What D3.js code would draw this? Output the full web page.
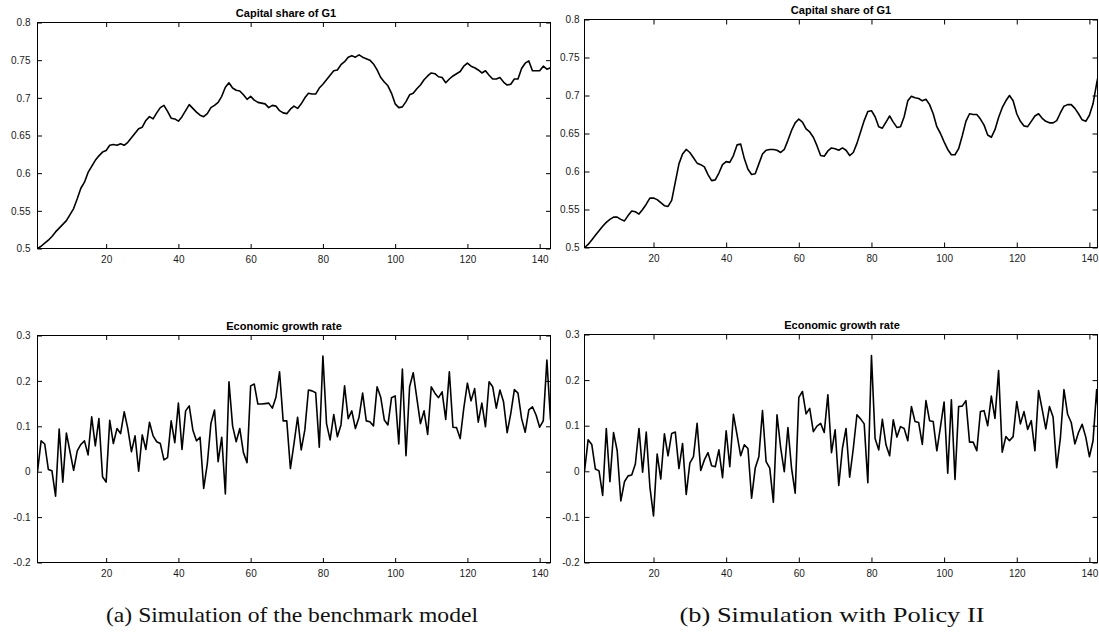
<!DOCTYPE html>
<html>
<head>
<meta charset="utf-8">
<script src="https://cdn.jsdelivr.net/npm/d3@7"></script>
<style>
  html, body { margin: 0; padding: 0; background: #fff; }
  svg { display: block; }
  .tick text { font-family: "Liberation Sans", Arial, Helvetica, sans-serif; font-size: 10px; fill: #1a1a1a; }
  .tick line { stroke: #000; stroke-width: 1; }
  .ptitle { font-family: "Liberation Sans", Arial, Helvetica, sans-serif; font-size: 11px; font-weight: bold; fill: #000; }
  .caption { font-family: "Liberation Serif", "Times New Roman", serif; font-size: 22px; fill: #111; }
</style>
</head>
<body>
<svg id="chart" width="1099" height="639"></svg>
<script>
// Simulated periods
const periods = d3.range(1, 144);

// (a) Benchmark model: capital share of G1
const capitalShareA = [
  0.500, 0.503, 0.507, 0.511, 0.516, 0.522, 0.527, 0.532, 0.537, 0.545,
  0.553, 0.566, 0.580, 0.588, 0.601, 0.609, 0.617, 0.623, 0.628, 0.630,
  0.637, 0.638, 0.637, 0.639, 0.637, 0.641, 0.647, 0.653, 0.659, 0.661,
  0.670, 0.675, 0.672, 0.680, 0.687, 0.690, 0.682, 0.673, 0.672, 0.669,
  0.675, 0.683, 0.691, 0.686, 0.681, 0.677, 0.675, 0.679, 0.687, 0.690,
  0.694, 0.702, 0.714, 0.720, 0.713, 0.710, 0.709, 0.704, 0.698, 0.702,
  0.697, 0.694, 0.693, 0.692, 0.687, 0.690, 0.689, 0.683, 0.680, 0.679,
  0.685, 0.689, 0.686, 0.692, 0.700, 0.706, 0.705, 0.705, 0.713, 0.718,
  0.724, 0.730, 0.736, 0.737, 0.744, 0.748, 0.754, 0.756, 0.754, 0.757,
  0.754, 0.752, 0.750, 0.745, 0.737, 0.727, 0.721, 0.716, 0.706, 0.692,
  0.687, 0.688, 0.695, 0.704, 0.706, 0.712, 0.717, 0.724, 0.729, 0.733,
  0.732, 0.728, 0.727, 0.720, 0.725, 0.729, 0.732, 0.735, 0.742, 0.746,
  0.742, 0.740, 0.737, 0.733, 0.736, 0.730, 0.725, 0.725, 0.727, 0.721,
  0.717, 0.718, 0.725, 0.725, 0.739, 0.746, 0.749, 0.736, 0.736, 0.736,
  0.742, 0.738, 0.740
];

// (a) Benchmark model: economic growth rate
const growthA = [
  0.000, 0.068, 0.061, 0.005, 0.002, -0.054, 0.094, -0.023, 0.085, 0.044,
  0.003, 0.046, 0.060, 0.068, 0.037, 0.121, 0.057, 0.117, -0.011, -0.023,
  0.113, 0.062, 0.095, 0.084, 0.132, 0.095, 0.044, 0.079, 0.001, 0.081,
  0.049, 0.109, 0.079, 0.066, 0.062, 0.026, 0.031, 0.112, 0.064, 0.151,
  0.049, 0.134, 0.145, 0.092, 0.068, 0.076, -0.037, 0.017, 0.106, 0.136,
  0.022, 0.076, -0.049, 0.198, 0.101, 0.066, 0.095, 0.042, 0.020, 0.189,
  0.193, 0.149, 0.149, 0.150, 0.151, 0.140, 0.164, 0.220, 0.112, 0.112,
  0.007, 0.062, 0.120, 0.048, 0.092, 0.180, 0.178, 0.174, 0.054, 0.255,
  0.106, 0.070, 0.126, 0.077, 0.103, 0.189, 0.117, 0.134, 0.095, 0.120,
  0.173, 0.112, 0.110, 0.101, 0.187, 0.164, 0.114, 0.103, 0.163, 0.167,
  0.061, 0.226, 0.035, 0.187, 0.218, 0.162, 0.106, 0.134, 0.082, 0.187,
  0.173, 0.163, 0.176, 0.115, 0.220, 0.098, 0.097, 0.073, 0.140, 0.195,
  0.156, 0.183, 0.109, 0.151, 0.099, 0.198, 0.187, 0.140, 0.180, 0.154,
  0.086, 0.128, 0.181, 0.173, 0.117, 0.087, 0.136, 0.143, 0.125, 0.098,
  0.112, 0.246, 0.114
];

// (b) Policy II: capital share of G1
const capitalShareB = [
  0.500, 0.504, 0.510, 0.516, 0.522, 0.528, 0.533, 0.537, 0.540, 0.540,
  0.537, 0.535, 0.542, 0.548, 0.547, 0.544, 0.550, 0.557, 0.565, 0.565,
  0.563, 0.559, 0.555, 0.554, 0.562, 0.586, 0.610, 0.623, 0.629, 0.625,
  0.618, 0.611, 0.609, 0.606, 0.596, 0.588, 0.589, 0.598, 0.609, 0.613,
  0.612, 0.621, 0.635, 0.636, 0.617, 0.603, 0.596, 0.597, 0.610, 0.623,
  0.628, 0.629, 0.629, 0.628, 0.625, 0.629, 0.641, 0.654, 0.664, 0.669,
  0.665, 0.656, 0.652, 0.645, 0.634, 0.621, 0.620, 0.627, 0.631, 0.630,
  0.628, 0.631, 0.628, 0.621, 0.625, 0.637, 0.652, 0.667, 0.679, 0.680,
  0.672, 0.659, 0.657, 0.665, 0.673, 0.665, 0.658, 0.659, 0.672, 0.693,
  0.699, 0.697, 0.696, 0.693, 0.695, 0.688, 0.676, 0.659, 0.650, 0.639,
  0.629, 0.622, 0.622, 0.630, 0.647, 0.666, 0.676, 0.675, 0.675, 0.669,
  0.661, 0.648, 0.645, 0.655, 0.671, 0.684, 0.693, 0.700, 0.693, 0.676,
  0.666, 0.660, 0.659, 0.666, 0.673, 0.676, 0.670, 0.666, 0.664, 0.664,
  0.667, 0.677, 0.686, 0.688, 0.688, 0.683, 0.676, 0.668, 0.666, 0.674,
  0.689, 0.716, 0.740
];

// (b) Policy II: economic growth rate
const growthB = [
  0.000, 0.069, 0.059, 0.005, 0.001, -0.053, 0.094, -0.023, 0.085, 0.045,
  -0.065, -0.023, -0.010, -0.008, 0.016, 0.094, -0.002, 0.086, -0.034, -0.098,
  0.038, -0.017, 0.082, 0.034, 0.083, 0.086, 0.006, 0.061, -0.051, 0.018,
  0.032, 0.105, 0.002, 0.025, 0.041, 0.012, 0.010, 0.047, -0.014, 0.089,
  0.010, 0.125, 0.080, 0.034, 0.058, 0.050, -0.059, 0.007, 0.032, 0.133,
  0.021, 0.007, -0.068, 0.124, 0.052, -0.001, 0.096, 0.007, -0.048, 0.162,
  0.175, 0.126, 0.138, 0.087, 0.099, 0.105, 0.085, 0.168, 0.041, 0.091,
  -0.031, 0.050, 0.094, -0.013, 0.050, 0.124, 0.115, 0.104, -0.025, 0.254,
  0.072, 0.047, 0.114, 0.058, 0.034, 0.113, 0.075, 0.098, 0.094, 0.067,
  0.142, 0.109, 0.107, 0.059, 0.155, 0.111, 0.109, 0.045, 0.098, 0.152,
  -0.004, 0.157, -0.018, 0.142, 0.143, 0.155, 0.064, 0.064, 0.045, 0.131,
  0.133, 0.100, 0.165, 0.116, 0.221, 0.042, 0.076, 0.067, 0.076, 0.153,
  0.104, 0.131, 0.092, 0.111, 0.045, 0.177, 0.136, 0.093, 0.142, 0.119,
  0.008, 0.072, 0.179, 0.125, 0.107, 0.060, 0.085, 0.103, 0.075, 0.032,
  0.067, 0.179, 0.060
];

// Axis ticks and labels
const xTicks = [20, 40, 60, 80, 100, 120, 140];
const xTickLabels = ["20", "40", "60", "80", "100", "120", "140"];
const shareTicks = [0.5, 0.55, 0.6, 0.65, 0.7, 0.75, 0.8];
const shareTickLabels = ["0.5", "0.55", "0.6", "0.65", "0.7", "0.75", "0.8"];
const growthTicks = [-0.2, -0.1, 0, 0.1, 0.2, 0.3];
const growthTickLabels = ["-0.2", "-0.1", "0", "0.1", "0.2", "0.3"];

const titles = ["Capital share of G1", "Economic growth rate"];
const captions = ["(a) Simulation of the benchmark model", "(b) Simulation with Policy II"];

const svg = d3.select("#chart");

// Panel geometry (frame edges in px)
const panels = [
  { id: "a1", left: 37.5, right: 550.5, xEnd: 550.5, top: 22.5, bottom: 248.5,
    values: capitalShareA, yTicks: shareTicks, yLabels: shareTickLabels, title: titles[0],
    titleX: 286, tick: 4.5, pad: 7 },
  { id: "a2", left: 37.5, right: 550.5, xEnd: 550.5, top: 335.5, bottom: 562.5,
    values: growthA, yTicks: growthTicks, yLabels: growthTickLabels, title: titles[1],
    titleX: 284, tick: 4.5, pad: 7 },
  { id: "b1", left: 584.5, right: 1097.5, xEnd: 1100.3, top: 19.5, bottom: 247.5,
    values: capitalShareB, yTicks: shareTicks, yLabels: shareTickLabels, title: titles[0],
    titleX: 841, tick: 5, pad: 5 },
  { id: "b2", left: 584.5, right: 1097.5, xEnd: 1100.3, top: 334.5, bottom: 562.5,
    values: growthB, yTicks: growthTicks, yLabels: growthTickLabels, title: titles[1],
    titleX: 842, tick: 5, pad: 5 }
];

panels.forEach(p => {
  const x = d3.scaleLinear().domain([1, 143]).range([p.left, p.xEnd]);
  const y = d3.scaleLinear()
    .domain([p.yTicks[0], p.yTicks[p.yTicks.length - 1]])
    .range([p.bottom, p.top]);

  const g = svg.append("g").attr("class", "panel");

  g.append("clipPath").attr("id", "clip-" + p.id)
    .append("rect")
    .attr("x", p.left).attr("y", p.top)
    .attr("width", p.right - p.left).attr("height", p.bottom - p.top);

  // series line
  const line = d3.line().x((d, i) => x(periods[i])).y(d => y(d));
  g.append("path")
    .datum(p.values)
    .attr("clip-path", "url(#clip-" + p.id + ")")
    .attr("fill", "none")
    .attr("stroke", "#000")
    .attr("stroke-width", 1.6)
    .attr("stroke-linejoin", "round")
    .attr("d", line);

  // inward ticks on all four sides
  const yL = d3.axisLeft(y).tickValues(p.yTicks)
    .tickFormat((d, i) => p.yLabels[i]).tickSize(-p.tick).tickPadding(p.pad);
  const yR = d3.axisRight(y).tickValues(p.yTicks).tickFormat("").tickSize(-p.tick);
  const xB = d3.axisBottom(x).tickValues(xTicks)
    .tickFormat((d, i) => xTickLabels[i]).tickSize(-p.tick).tickPadding(7);
  const xT = d3.axisTop(x).tickValues(xTicks).tickFormat("").tickSize(-p.tick);

  g.append("g").attr("transform", `translate(${p.left},0)`).call(yL);
  g.append("g").attr("transform", `translate(${p.right},0)`).call(yR);
  g.append("g").attr("transform", `translate(0,${p.bottom})`).call(xB);
  g.append("g").attr("transform", `translate(0,${p.top})`).call(xT);
  g.selectAll(".domain").remove();
  g.selectAll(".tick text").attr("fill", null);
  g.selectAll(".tick line").attr("stroke", null);

  // axes frame
  g.append("rect")
    .attr("x", p.left).attr("y", p.top)
    .attr("width", p.right - p.left).attr("height", p.bottom - p.top)
    .attr("fill", "none").attr("stroke", "#000").attr("stroke-width", 1);

  g.append("text").attr("class", "ptitle")
    .attr("x", p.titleX).attr("y", p.top - 5.5)
    .attr("text-anchor", "middle")
    .text(p.title);
});

// subfigure captions
svg.append("text").attr("class", "caption")
  .attr("x", 292).attr("y", 622).attr("text-anchor", "middle")
  .attr("textLength", 372).attr("lengthAdjust", "spacingAndGlyphs")
  .text(captions[0]);
svg.append("text").attr("class", "caption")
  .attr("x", 832).attr("y", 622).attr("text-anchor", "middle")
  .attr("textLength", 305).attr("lengthAdjust", "spacingAndGlyphs")
  .text(captions[1]);
</script>
</body>
</html>
